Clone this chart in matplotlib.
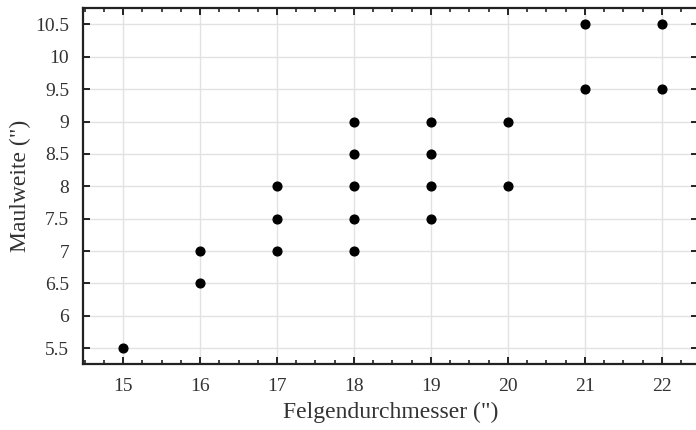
import matplotlib.pyplot as plt
from matplotlib.ticker import MultipleLocator

plt.rcParams['font.family'] = ['Liberation Serif', 'DejaVu Serif']

rim = [15, 16, 16, 17, 17, 17, 18, 18, 18, 18, 18, 19, 19, 19, 19, 20, 20, 21, 21, 22, 22]
gap = [5.5, 6.5, 7, 7, 7.5, 8, 7, 7.5, 8, 8.5, 9, 7.5, 8, 8.5, 9, 8, 9, 9.5, 10.5, 9.5, 10.5]

fig = plt.figure(figsize=(6.96, 4.30), dpi=100)
# right spine sits just past the picture edge, as in the original
ax = fig.add_axes([0.1193, 0.154, 0.8836, 0.827])

ax.plot(rim, gap, 'o', color='black', markersize=6.3, zorder=3)

ax.set_xlim(14.48, 22.47)
ax.set_ylim(5.26, 10.75)
ax.xaxis.set_major_locator(MultipleLocator(1))
ax.xaxis.set_minor_locator(MultipleLocator(0.25))
ax.yaxis.set_major_locator(MultipleLocator(0.5))

ax.grid(True, color='#e2e2e2', linewidth=1)
ax.set_axisbelow(True)

for s in ax.spines.values():
    s.set_linewidth(1.6)
    s.set_color('#222222')

ax.tick_params(which='major', direction='in', length=5, width=1.4, top=True, right=True,
               labelsize=14, pad=10, colors='#222222', labelcolor='#333333')
ax.tick_params(which='minor', direction='in', length=3, width=1.2, top=True, right=False,
               colors='#222222')

ax.set_xticks(range(15, 23))
ax.set_xticklabels([str(v) for v in range(15, 23)])
ax.set_yticks([5.5, 6, 6.5, 7, 7.5, 8, 8.5, 9, 9.5, 10, 10.5])
ax.set_yticklabels(['5.5', '6', '6.5', '7', '7.5', '8', '8.5', '9', '9.5', '10', '10.5'])

ax.set_xlabel('Felgendurchmesser (")', fontsize=17, color='#333333', labelpad=5)
ax.set_ylabel('Maulweite (")', fontsize=17, color='#333333', labelpad=3)

fig.savefig('out.png', dpi=100)
